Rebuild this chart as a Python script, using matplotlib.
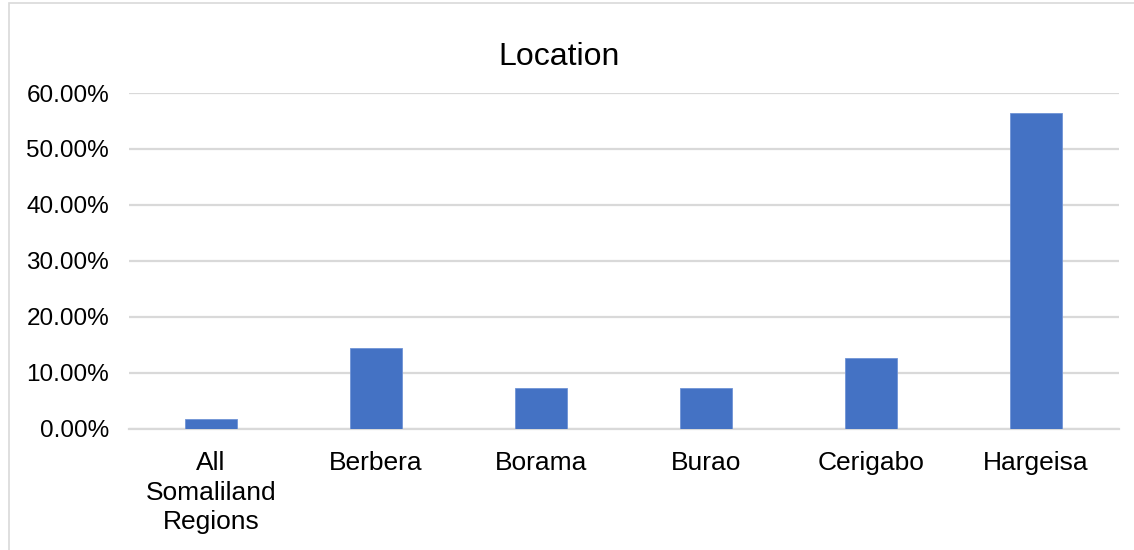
import matplotlib
matplotlib.use("Agg")
import matplotlib.pyplot as plt
from matplotlib.patches import Rectangle
from matplotlib.ticker import FuncFormatter

categories = ["All\nSomaliland\nRegions", "Berbera", "Borama", "Burao", "Cerigabo", "Hargeisa"]
values = [1.8, 14.5, 7.3, 7.3, 12.7, 56.4]
yticks = [0, 10, 20, 30, 40, 50, 60]
title = "Location"

plt.rcParams['font.family'] = ['Liberation Sans', 'DejaVu Sans']

W, H = 1134, 550
fig = plt.figure(figsize=(W / 100, H / 100), dpi=100)
fig.patch.set_facecolor("white")

# outer chart frame
fig.add_artist(Rectangle((9 / W, -0.01), 1.2, 1 - 3 / H + 0.01, transform=fig.transFigure,
                         facecolor="none", edgecolor="#d9d9d9", linewidth=1.2))

left, right = 128.5 / W, 1118.5 / W
bottom, top = 1 - 428.7 / H, 1 - 93 / H
ax = fig.add_axes([left, bottom, right - left, top - bottom])

x = range(len(categories))
ax.bar(x, values, width=0.315, color="#4472C4", edgecolor="#6f93d6", linewidth=0.6, zorder=3)

ax.set_xlim(-0.5, len(categories) - 0.5)
ax.set_ylim(0, 60)
ax.set_yticks(yticks)
ax.yaxis.set_major_formatter(FuncFormatter(lambda v, p: f"{v:.2f}%"))
ax.set_xticks(list(x))
ax.set_xticklabels(categories, fontsize=19)
for lbl in ax.get_xticklabels():
    lbl.set_linespacing(1.3)
ax.tick_params(axis="y", labelsize=17.5, length=0, pad=14)
ax.tick_params(axis="x", length=0, pad=16)

ax.grid(axis="y", color="#d9d9d9", linewidth=1.6, zorder=0)
for s in ["top", "right", "left"]:
    ax.spines[s].set_visible(False)
ax.spines["bottom"].set_color("#d9d9d9")
ax.spines["bottom"].set_linewidth(1.6)

fig.text(559 / W, 1 - 57 / H, title, ha="center", va="center", fontsize=23)

fig.savefig("out.png", dpi=100)
